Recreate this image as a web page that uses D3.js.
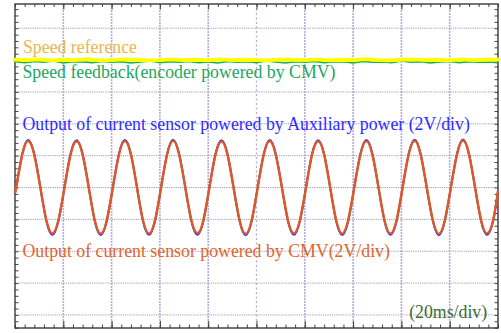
<!DOCTYPE html>
<html>
<head>
<meta charset="utf-8">
<script src="https://cdn.jsdelivr.net/npm/d3@7"></script>
<style>
  html, body { margin: 0; padding: 0; background: #fff; }
  svg { display: block; }
</style>
</head>
<body>
<svg id="scope" width="501" height="333"></svg>
<script>
// ---- Data -------------------------------------------------------------
// Time base: 20 ms/div, 10 divisions.
const timeDomain = [0, 200];
// Vertical position expressed in divisions (0 = centre trace line).
const divDomain = [-4.41, 5.76];
const gridTimes = [20, 40, 60, 80, 100, 120, 140, 160, 180];
const gridDivs = [-4, -3, -2, -1, 0, 1, 2, 3, 4, 5];
const voltsPerDiv = 2;

// Current-sensor outputs (V), sampled every 2.5 ms from t = 0.5 ms, plus end points.
const currentTimes = [0].concat(d3.range(0.5, 200, 2.5), [200]);
const currentCMV = [
  -0.22,
  0.02, 2.06, 2.92, 2.04, -0.02, -2.05, -2.88, -2.03,
  0.01, 2.05, 2.90, 2.06, 0.03, -2.04, -2.90, -2.05,
  -0.02, 2.03, 2.91, 2.05, 0.00, -2.06, -2.89, -2.04,
  0.02, 2.07, 2.93, 2.04, 0.01, -2.03, -2.87, -2.05,
  0.00, 2.04, 2.89, 2.05, -0.01, -2.05, -2.91, -2.06,
  0.01, 2.06, 2.92, 2.03, 0.02, -2.04, -2.88, -2.04,
  -0.01, 2.05, 2.90, 2.06, 0.00, -2.06, -2.90, -2.03,
  0.02, 2.04, 2.91, 2.05, 0.01, -2.05, -2.89, -2.05,
  0.00, 2.06, 2.93, 2.04, -0.02, -2.04, -2.91, -2.04,
  0.01, 2.05, 2.95, 2.06, 0.00, -2.05, -2.88, -2.04,
  -0.22
];
const currentAux = [
  -0.24,
  0.03, 2.10, 2.98, 2.09, 0.02, -2.10, -2.97, -2.09,
  0.02, 2.11, 2.97, 2.10, 0.04, -2.09, -2.98, -2.10,
  0.00, 2.09, 2.98, 2.11, 0.02, -2.11, -2.97, -2.09,
  0.03, 2.12, 2.99, 2.09, 0.02, -2.09, -2.96, -2.10,
  0.01, 2.10, 2.97, 2.10, 0.00, -2.10, -2.99, -2.11,
  0.02, 2.11, 2.99, 2.09, 0.03, -2.09, -2.97, -2.09,
  0.00, 2.10, 2.97, 2.11, 0.01, -2.11, -2.98, -2.09,
  0.03, 2.09, 2.98, 2.10, 0.02, -2.10, -2.97, -2.10,
  0.01, 2.11, 3.00, 2.09, 0.00, -2.09, -2.99, -2.09,
  0.02, 2.10, 3.01, 2.11, 0.01, -2.10, -2.96, -2.09,
  -0.24
];

// Speed traces (divisions), sampled every 5 ms (reference) and 4 ms (feedback).
const speedRefTimes = d3.range(0, 201, 5);
const speedRef = [4.01, 4.00, 4.02, 3.99, 4.01, 4.00, 4.03, 3.99, 4.00, 4.02, 4.01,
  3.99, 4.00, 4.02, 4.00, 4.01, 3.99, 4.02, 4.00, 4.01, 4.00, 3.99, 4.02, 4.01, 4.00,
  4.02, 3.99, 4.01, 4.00, 4.03, 4.00, 3.99, 4.01, 4.02, 4.00, 4.01, 3.99, 4.02, 4.00,
  4.01, 4.02];
const speedFbTimes = d3.range(0, 201, 4);
const speedFb = [3.95, 3.92, 3.96, 3.93, 3.97, 3.91, 3.95, 3.94, 3.92, 3.96, 3.93,
  3.95, 3.91, 3.94, 3.97, 3.92, 3.95, 3.93, 3.96, 3.92, 3.94, 3.91, 3.96, 3.93, 3.95,
  3.92, 3.97, 3.94, 3.91, 3.95, 3.93, 3.96, 3.92, 3.94, 3.95, 3.91, 3.96, 3.93, 3.94,
  3.92, 3.97, 3.93, 3.95, 3.91, 3.94, 3.96, 3.92, 3.95, 3.93, 3.94, 3.92];

const labels = [
  { text: "Speed reference", t: 3.3, d: 4.21, color: "#ecb54a" },
  { text: "Speed feedback(encoder powered by CMV)", t: 3.1, d: 3.43, color: "#1ba85c" },
  { text: "Output of current sensor powered by Auxiliary power (2V/div)", t: 3.1, d: 1.79, color: "#2d2dff" },
  { text: "Output of current sensor powered by CMV(2V/div)", t: 3.1, d: -2.19, color: "#e0642c" },
  { text: "(20ms/div)", t: 163.2, d: -4.1, color: "#3d6a34" }
];

// ---- Scales -------------------------------------------------------------
const svg = d3.select("#scope");
const x = d3.scaleLinear().domain(timeDomain).range([15, 498]);
const y = d3.scaleLinear().domain(divDomain).range([328, 4]);

// ---- Grid -------------------------------------------------------------------
const grid = svg.append("g");
grid.selectAll("line.h").data(gridDivs).join("line")
  .attr("x1", x(0)).attr("x2", x(200))
  .attr("y1", d => y(d)).attr("y2", d => y(d))
  .attr("stroke", "#a09cb4").attr("stroke-width", 1)
  .attr("stroke-dasharray", "1.2,1");
grid.selectAll("line.v").data(gridTimes).join("line")
  .attr("x1", d => x(d)).attr("x2", d => x(d))
  .attr("y1", y(divDomain[1])).attr("y2", y(divDomain[0]))
  .attr("stroke", "#b9abd8")
  .attr("stroke-width", d => d === 100 ? 1.3 : 1.6)
  .attr("stroke-dasharray", d => d === 100 ? "2,2.5" : "2,1");

// ---- Axes (ticks only, on all four sides) ----------------------------------
const minorT = d3.range(0, 200.1, 4);
const majorT = gridTimes;
const minorD = d3.range(-4.4, 5.7, 0.2);
const noLabel = () => "";
function axisGroup(axis, tx, ty) {
  const g = svg.append("g").attr("transform", `translate(${tx},${ty})`).call(axis);
  g.select(".domain").remove();
  g.selectAll(".tick line").attr("stroke", "#444").attr("stroke-width", 1);
  return g;
}
axisGroup(d3.axisBottom(x).tickValues(minorT).tickSize(-3.5).tickFormat(noLabel), 0, y(divDomain[0]));
axisGroup(d3.axisBottom(x).tickValues(majorT).tickSize(-7).tickFormat(noLabel), 0, y(divDomain[0]));
axisGroup(d3.axisTop(x).tickValues(minorT).tickSize(-3).tickFormat(noLabel), 0, y(divDomain[1]));
axisGroup(d3.axisTop(x).tickValues(majorT).tickSize(-5.5).tickFormat(noLabel), 0, y(divDomain[1]));
axisGroup(d3.axisLeft(y).tickValues(minorD).tickSize(-3.5).tickFormat(noLabel), x(0), 0);
axisGroup(d3.axisRight(y).tickValues(minorD).tickSize(-3.5).tickFormat(noLabel), x(200), 0);

// Frame
svg.append("rect")
  .attr("x", x(0)).attr("y", y(divDomain[1]))
  .attr("width", x(200) - x(0)).attr("height", y(divDomain[0]) - y(divDomain[1]))
  .attr("fill", "none").attr("stroke", "#3a3a3a").attr("stroke-width", 1.4);

// ---- Traces -----------------------------------------------------------------
const speedLine = d3.line().x(d => x(d[0])).y(d => y(d[1]));
svg.append("path")
  .datum(d3.zip(speedFbTimes, speedFb))
  .attr("d", speedLine)
  .attr("fill", "none").attr("stroke", "#19b04a").attr("stroke-width", 1.6);
svg.append("path")
  .datum(d3.zip(speedRefTimes, speedRef))
  .attr("d", speedLine)
  .attr("fill", "none").attr("stroke", "#ffff00").attr("stroke-width", 3.8)
  .attr("stroke-linecap", "square");

const currentLine = d3.line()
  .x(d => x(d[0])).y(d => y(d[1] / voltsPerDiv))
  .curve(d3.curveNatural);
svg.append("path")
  .datum(d3.zip(currentTimes, currentAux))
  .attr("d", currentLine)
  .attr("fill", "none").attr("stroke", "#2a2aff").attr("stroke-width", 2);
svg.append("path")
  .datum(d3.zip(currentTimes, currentCMV))
  .attr("d", currentLine)
  .attr("fill", "none").attr("stroke", "#de5a22").attr("stroke-width", 2.4);

// ---- Labels -----------------------------------------------------------------
svg.append("g").selectAll("text").data(labels).join("text")
  .attr("x", d => x(d.t)).attr("y", d => y(d.d))
  .attr("fill", d => d.color)
  .attr("font-family", "'Liberation Serif', 'Times New Roman', Times, serif")
  .attr("font-size", 17.8)
  .text(d => d.text);
</script>
</body>
</html>
